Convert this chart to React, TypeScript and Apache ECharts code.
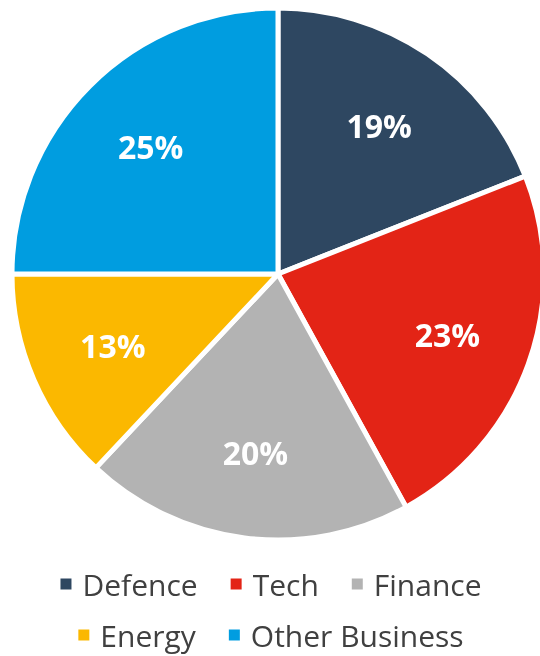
import React, { useEffect, useRef } from "react";
import * as echarts from "echarts";

const categories = ["Defence", "Tech", "Finance", "Energy", "Other Business"];
const values = [19, 23, 20, 13, 25];
const colors = ["#2e4761", "#e32416", "#b3b3b3", "#fbb800", "#009de0"];
const legendRow1 = ["Defence", "Tech", "Finance"];
const legendRow2 = ["Energy", "Other Business"];

export default function App() {
  const ref = useRef<HTMLDivElement>(null);
  useEffect(() => {
    if (!ref.current) return;
    const chart = echarts.init(ref.current, null, { renderer: "svg" });
    const data = categories.map((name, i) => ({
      name,
      value: values[i],
      itemStyle: { color: colors[i] },
    }));
    const legendBase = {
      orient: "horizontal" as const,
      left: "center",
      itemWidth: 13,
      itemHeight: 13,
      itemGap: 31,
      icon: "rect",
      padding: 0,
      textStyle: {
        fontFamily: "Open Sans",
        fontSize: 30,
        lineHeight: 30,
        color: "#404040",
        padding: [0, 0, 0, 5],
      },
    };
    chart.setOption({
      animation: false,
      color: colors,
      legend: [
        { ...legendBase, data: legendRow1, top: 569 },
        { ...legendBase, data: legendRow2, top: 620 },
      ],
      series: [
        {
          type: "pie",
          center: [278, 274],
          radius: [0, 266],
          startAngle: 90,
          clockwise: true,
          data,
          itemStyle: { borderColor: "#ffffff", borderWidth: 5 },
          label: { show: false },
          labelLine: { show: false },
          silent: true,
        },
        {
          type: "pie",
          center: [278, 274],
          radius: [88, 266],
          startAngle: 90,
          clockwise: true,
          data: data.map((d) => ({ ...d, itemStyle: { color: "rgba(0,0,0,0)" } })),
          itemStyle: { color: "rgba(0,0,0,0)", borderWidth: 0 },
          label: {
            show: true,
            position: "inside",
            formatter: "{c}%",
            color: "#ffffff",
            fontFamily: "Open Sans",
            fontWeight: "bold",
            fontSize: 32,
          },
          labelLine: { show: false },
          legendHoverLink: false,
          silent: true,
        },
      ],
    });
    return () => chart.dispose();
  }, []);
  return (
    <div
      ref={ref}
      style={{ position: "fixed", left: 0, top: 0, width: 540, height: 656 }}
    />
  );
}
